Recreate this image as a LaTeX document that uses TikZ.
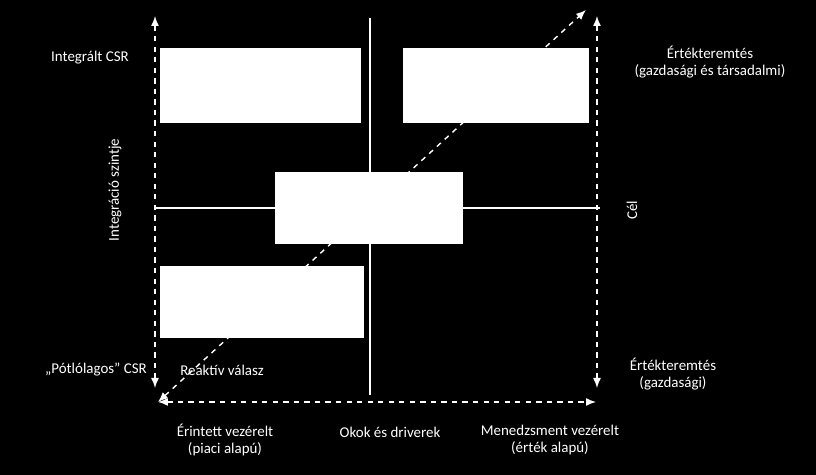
\documentclass[tikz,border=0pt]{standalone}
\usepackage{fontspec}
\setmainfont{Carlito}
\usetikzlibrary{arrows.meta, positioning, calc}

\begin{document}
\begin{tikzpicture}[
  x=0.02cm, y=-0.02cm,
  every node/.style = {text=white, font=\fontsize{8.5}{10}\selectfont, align=center},
  field/.style = {fill=white, draw=white},
  axis/.style  = {draw=white, thick, dashed, {Latex[width=1.6mm,length=2mm]}-{Latex[width=1.6mm,length=2mm]}},
  cross/.style = {draw=white, semithick}
]
  \fill[black] (0,0) rectangle (816,475);
  \useasboundingbox (0,0) rectangle (816,475);

  % axis end points
  \coordinate (ltop) at (155,16);
  \coordinate (lbot) at (155,388);
  \coordinate (rtop) at (597,16);
  \coordinate (rbot) at (597,388);
  \coordinate (bl) at (158,402);
  \coordinate (br) at (596,402);
  \coordinate (dtop) at (586,10);

  % cross lines
  \coordinate (vtop) at (370,18);
  \coordinate (vbot) at (370,395);
  \coordinate (hl) at (155,208);
  \coordinate (hr) at (600,208);
  \draw[cross] (vtop) -- (vbot);
  \draw[cross] (hl) -- (hr);

  % boxes
  \node[field, minimum width=200*0.02cm, minimum height=74*0.02cm] (integr) at (260,85) {};
  \node[field, minimum width=185*0.02cm, minimum height=74*0.02cm] (ertek) at (495.5,85) {};
  \node[field, minimum width=187*0.02cm, minimum height=71*0.02cm] (mid) at (368.5,207.5) {};
  \node[field, minimum width=203*0.02cm, minimum height=71*0.02cm] (potl) at (261.5,301.5) {};

  % axes
  \draw[axis] (lbot) -- (ltop);
  \draw[axis] (rbot) -- (rtop);
  \draw[axis] (bl) -- (br);
  \draw[axis] (bl) -- (dtop);

  % labels
  \node (lintegr) at (90,58) {Integrált CSR};
  \node (lertek) at (710,62) {Értékteremtés\\(gazdasági és társadalmi)};
  \node[rotate=90] (lszint) at (115,190) {Integráció szintje};
  \node[rotate=90] (lcel) at (632,210) {Cél};
  \node (lpotl) at (96,370) {„Pótlólagos” CSR};
  \node (lreakt) at (222,370) {Reaktív válasz};
  \node (lgazd) at (673,374) {Értékteremtés\\(gazdasági)};
  \node (lerint) at (225,440) {Érintett vezérelt\\(piaci alapú)};
  \node (lokok) at (390,432) {Okok és driverek};
  \node (lmened) at (550,440) {Menedzsment vezérelt\\(érték alapú)};
\end{tikzpicture}
\end{document}
